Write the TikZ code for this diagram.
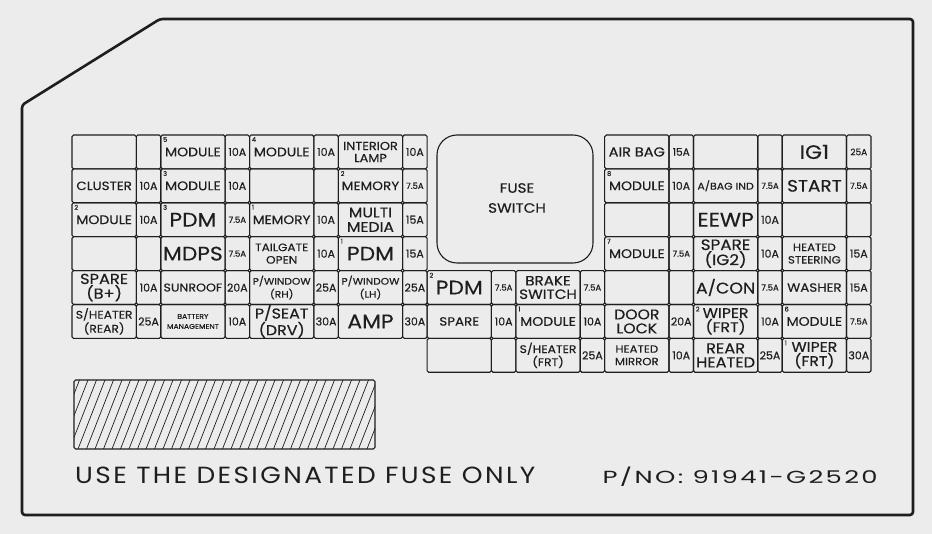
\documentclass[tikz,border=0pt]{standalone}
\usepackage{fontspec}
\usepackage{graphicx}
\newfontfamily\pop{Poppins}[FakeStretch=1.12,FakeBold=0.35]
\newfontfamily\popa{Poppins}[FakeBold=0.3]
\newfontfamily\popsp{Poppins}[LetterSpace=9]
\definecolor{bg}{HTML}{ECECEC}
\definecolor{ink}{HTML}{1E1E1E}
\newcommand\fsz[2]{\fontsize{#1}{#2}\selectfont}
% #1 col, #2 row, #3 label font size, #4 baselineskip, #5 label, #6 amp size, #7 amp text
\newcommand\fusecell[7]{%
  \pgfmathsetmacro\xl{72+#1*88.78}%
  \pgfmathsetmacro\xm{\xl+64.3}%
  \pgfmathsetmacro\xr{\xl+88.78}%
  \pgfmathsetmacro\yt{135+#2*33.9}%
  \pgfmathsetmacro\yb{\yt+33.9}%
  \draw[cellbox] (\xl,\yt) rectangle (\xm,\yb);
  \draw[cellbox] (\xm,\yt) rectangle (\xr,\yb);
  \node[lbl,font={\pop\fsz{#3}{#4}}] (L#1-#2) at ({(\xl+\xm)/2},{(\yt+\yb)/2}) {#5};
  \node[lbl,font={\popa\fsz{#6}{#6}}] (A#1-#2) at ({(\xm+\xr)/2},{(\yt+\yb)/2}) {#7};
}
\newcommand\emptycell[2]{%
  \pgfmathsetmacro\xl{72+#1*88.78}%
  \pgfmathsetmacro\xm{\xl+64.3}%
  \pgfmathsetmacro\xr{\xl+88.78}%
  \pgfmathsetmacro\yt{135+#2*33.9}%
  \pgfmathsetmacro\yb{\yt+33.9}%
  \draw[cellbox] (\xl,\yt) rectangle (\xm,\yb);
  \draw[cellbox] (\xm,\yt) rectangle (\xr,\yb);
}
\newcommand\supnum[3]{%
  \pgfmathsetmacro\xl{72+#1*88.78}%
  \pgfmathsetmacro\yt{135+#2*33.9}%
  \node[supn] (S#1-#2) at (\xl+2.2,\yt+2) {#3};
}
\begin{document}
\begin{tikzpicture}[x=1pt,y=-1pt,
  cellbox/.style={draw=ink,line width=1.1pt,rounded corners=1.6pt},
  lbl/.style={inner sep=0pt,align=center,text=ink},
  supn/.style={inner sep=0pt,anchor=north west,text=ink,font={\popa\fsz{6.5}{6.5}}},
  outline/.style={draw=ink,line width=2.6pt,rounded corners=3pt,line join=round}]
\useasboundingbox (0,0) rectangle (932,534);
\fill[bg] (0,0) rectangle (932,534);
% outer housing
\draw[outline] (22,105) -- (160,19) -- (913,19) -- (913,515) -- (22,515) -- cycle;
% left block
\emptycell{0}{0}
\fusecell{1}{0}{12.5}{13}{MODULE}{11}{10A}\supnum{1}{0}{5}
\fusecell{2}{0}{12.5}{13}{MODULE}{11}{10A}\supnum{2}{0}{4}
\fusecell{3}{0}{11.5}{12}{INTERIOR\\LAMP}{11}{10A}
\fusecell{0}{1}{12}{13}{CLUSTER}{11}{10A}
\fusecell{1}{1}{12.5}{13}{MODULE}{11}{10A}\supnum{1}{1}{3}
\emptycell{2}{1}
\fusecell{3}{1}{12.2}{13}{MEMORY}{8.5}{7.5A}\supnum{3}{1}{2}
\fusecell{0}{2}{12.5}{13}{MODULE}{11}{10A}\supnum{0}{2}{2}
\fusecell{1}{2}{19.5}{20}{PDM}{8.5}{7.5A}\supnum{1}{2}{3}
\fusecell{2}{2}{12.2}{13}{MEMORY}{11}{10A}\supnum{2}{2}{1}
\fusecell{3}{2}{14}{14.5}{MULTI\\MEDIA}{11}{15A}
\emptycell{0}{3}
\fusecell{1}{3}{19.5}{20}{MDPS}{8.5}{7.5A}
\fusecell{2}{3}{10.8}{12.5}{TAILGATE\\OPEN}{11}{10A}
\fusecell{3}{3}{19.5}{20}{PDM}{11}{15A}\supnum{3}{3}{1}
\fusecell{0}{4}{14.5}{13.5}{SPARE\\(B+)}{11}{10A}
\fusecell{1}{4}{11.3}{13}{SUNROOF}{11}{20A}
\fusecell{2}{4}{9.5}{13}{P/WINDOW\\(RH)}{11}{25A}
\fusecell{3}{4}{9.5}{13}{P/WINDOW\\(LH)}{11}{25A}
\fusecell{0}{5}{11}{14}{S/HEATER\\(REAR)}{11}{25A}
\fusecell{1}{5}{6.8}{10}{BATTERY\\MANAGEMENT}{11}{10A}
\fusecell{2}{5}{14.2}{15}{P/SEAT\\(DRV)}{11}{30A}
\fusecell{3}{5}{19.5}{20}{AMP}{11}{30A}
% fuse switch
\draw[cellbox,rounded corners=20pt] (437,135) rectangle (593,263);
\node[lbl,font={\pop\fsz{13.5}{20}}] (FS) at (517,198) {FUSE\\SWITCH};
% middle block
\fusecell{4}{4}{19.5}{20}{PDM}{8.5}{7.5A}\supnum{4}{4}{2}
\fusecell{5}{4}{13.5}{13.5}{BRAKE\\SWITCH}{8.5}{7.5A}
\fusecell{4}{5}{12}{13}{SPARE}{11}{10A}
\fusecell{5}{5}{12.5}{13}{MODULE}{11}{10A}\supnum{5}{5}{1}
\emptycell{4}{6}
\fusecell{5}{6}{11}{13}{S/HEATER\\(FRT)}{11}{25A}
% right block
\fusecell{6}{0}{13}{13}{AIR BAG}{10.5}{15A}
\emptycell{7}{0}
\fusecell{8}{0}{19.5}{20}{IG1}{9}{25A}
\fusecell{6}{1}{12.5}{13}{MODULE}{11}{10A}\supnum{6}{1}{8}
\fusecell{7}{1}{9.8}{10}{A/BAG IND}{8.5}{7.5A}
\fusecell{8}{1}{16.5}{17}{START}{8.5}{7.5A}
\emptycell{6}{2}
\fusecell{7}{2}{19.5}{20}{EEWP}{11}{10A}
\emptycell{8}{2}
\fusecell{6}{3}{12.5}{13}{MODULE}{8.5}{7.5A}\supnum{6}{3}{7}
\fusecell{7}{3}{15}{13.5}{SPARE\\(IG2)}{11}{10A}
\fusecell{8}{3}{10.5}{12.5}{HEATED\\STEERING}{11}{15A}
\emptycell{6}{4}
\fusecell{7}{4}{15.5}{16}{A/CON}{8.5}{7.5A}
\fusecell{8}{4}{12}{13}{WASHER}{11}{15A}
\fusecell{6}{5}{14}{14}{DOOR\\LOCK}{11}{20A}
\fusecell{7}{5}{14}{13}{WIPER\\(FRT)}{11}{10A}\supnum{7}{5}{2}
\fusecell{8}{5}{12.5}{13}{MODULE}{8.5}{7.5A}\supnum{8}{5}{6}
\fusecell{6}{6}{10.5}{12.5}{HEATED\\MIRROR}{11}{10A}
\fusecell{7}{6}{14.5}{14}{REAR\\HEATED}{11}{25A}
\fusecell{8}{6}{14}{13}{WIPER\\(FRT)}{11}{30A}\supnum{8}{6}{1}
% hatched label area
\begin{scope}
  \clip[rounded corners=2pt] (74,380) rectangle (375,449);
  \foreach \h in {44,52.5,...,380} \draw[ink,line width=0.7pt] (\h,449) -- (\h+27,380);
\end{scope}
\draw[cellbox] (74,380) rectangle (375,449);
% notes
\node[lbl,anchor=base west] (note) at (75,483.3) {\resizebox{460pt}{16.5pt}{\popsp USE THE DESIGNATED FUSE ONLY}};
\node[lbl,anchor=base west] (pno) at (602.5,483.3) {\resizebox{275pt}{16.5pt}{\popsp P/NO: 91941-G2520}};
\end{tikzpicture}
\end{document}
